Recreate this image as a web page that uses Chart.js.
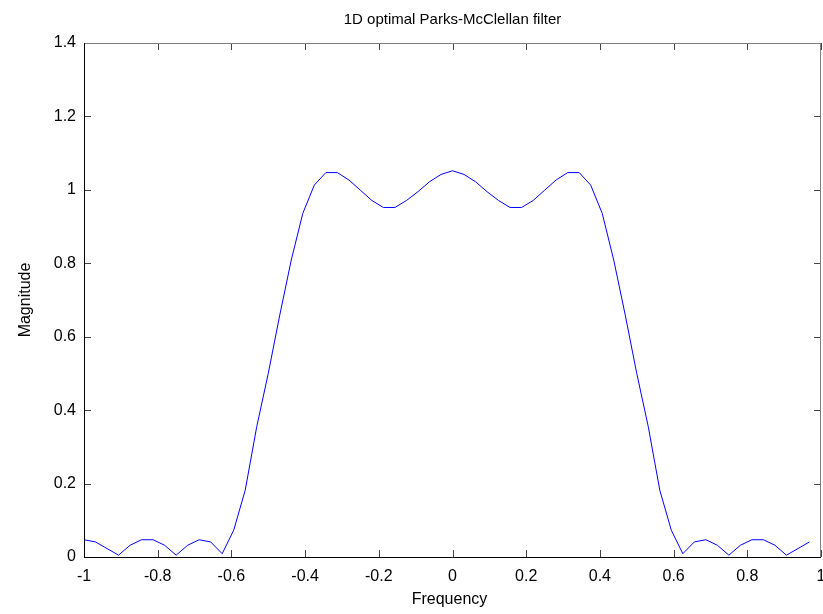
<!DOCTYPE html>
<html>
<head>
<meta charset="utf-8">
<script src="https://cdn.jsdelivr.net/npm/chart.js@4.4.0/dist/chart.umd.min.js"></script>
<style>
  html, body { margin: 0; padding: 0; background: #fff; }
  #wrap { width: 823px; height: 614px; position: relative; }
</style>
</head>
<body>
<div id="wrap"><canvas id="chart"></canvas></div>
<script>
// frequency samples, -1 .. 31/32 in steps of 1/32
const frequency = [
  -1, -0.96875, -0.9375, -0.90625, -0.875, -0.84375, -0.8125, -0.78125,
  -0.75, -0.71875, -0.6875, -0.65625, -0.625, -0.59375, -0.5625, -0.53125,
  -0.5, -0.46875, -0.4375, -0.40625, -0.375, -0.34375, -0.3125, -0.28125,
  -0.25, -0.21875, -0.1875, -0.15625, -0.125, -0.09375, -0.0625, -0.03125,
  0, 0.03125, 0.0625, 0.09375, 0.125, 0.15625, 0.1875, 0.21875,
  0.25, 0.28125, 0.3125, 0.34375, 0.375, 0.40625, 0.4375, 0.46875,
  0.5, 0.53125, 0.5625, 0.59375, 0.625, 0.65625, 0.6875, 0.71875,
  0.75, 0.78125, 0.8125, 0.84375, 0.875, 0.90625, 0.9375, 0.96875
];

const magnitude = [
  0.047, 0.041, 0.023, 0.005, 0.032, 0.047, 0.047, 0.032,
  0.005, 0.032, 0.047, 0.041, 0.009, 0.073, 0.182, 0.355,
  0.500, 0.659, 0.809, 0.936, 1.013, 1.047, 1.047, 1.027,
  0.999, 0.971, 0.952, 0.952, 0.971, 0.995, 1.022, 1.042,
  1.052, 1.042, 1.022, 0.995, 0.971, 0.952, 0.952, 0.971,
  0.999, 1.027, 1.047, 1.047, 1.013, 0.936, 0.809, 0.659,
  0.500, 0.355, 0.182, 0.073, 0.009, 0.041, 0.047, 0.032,
  0.005, 0.032, 0.047, 0.047, 0.032, 0.005, 0.023, 0.041
];

const xTicks = [-1, -0.8, -0.6, -0.4, -0.2, 0, 0.2, 0.4, 0.6, 0.8, 1];
const yTicks = [0, 0.2, 0.4, 0.6, 0.8, 1, 1.2, 1.4];

const titleText = '1D optimal Parks-McClellan filter';
const xLabel = 'Frequency';
const yLabel = 'Magnitude';

const FONT = 'Liberation Sans, Arial, Helvetica, sans-serif';

const fmt = v => {
  if (Math.abs(v) < 1e-9) return '0';
  return String(Math.round(v * 10) / 10);
};

// MATLAB-like box with inward ticks + titles
const matlabFrame = {
  id: 'matlabFrame',
  afterDraw(chart) {
    const { ctx, chartArea: a, scales: { x, y } } = chart;
    const tl = 7;
    ctx.save();
    ctx.lineWidth = 1;

    // ticks
    ctx.strokeStyle = '#444';
    ctx.beginPath();
    xTicks.forEach(v => {
      const px = Math.round(x.getPixelForValue(v)) + 0.5;
      ctx.moveTo(px, a.bottom); ctx.lineTo(px, a.bottom - tl);
      ctx.moveTo(px, a.top); ctx.lineTo(px, a.top + tl);
    });
    yTicks.forEach(v => {
      const py = Math.round(y.getPixelForValue(v)) + 0.5;
      ctx.moveTo(a.left, py); ctx.lineTo(a.left + tl, py);
      ctx.moveTo(a.right, py); ctx.lineTo(a.right - tl, py);
    });
    ctx.stroke();

    // top + right in grey
    ctx.strokeStyle = '#7f7f7f';
    ctx.beginPath();
    ctx.moveTo(a.left, a.top + 0.5); ctx.lineTo(a.right, a.top + 0.5);
    ctx.moveTo(a.right - 0.5, a.top); ctx.lineTo(a.right - 0.5, a.bottom);
    ctx.stroke();

    // left + bottom in black
    ctx.strokeStyle = '#000';
    ctx.beginPath();
    ctx.moveTo(a.left + 0.5, a.top); ctx.lineTo(a.left + 0.5, a.bottom);
    ctx.moveTo(a.left, a.bottom + 0.5); ctx.lineTo(a.right, a.bottom + 0.5);
    ctx.stroke();

    // texts
    ctx.fillStyle = '#000';
    ctx.textAlign = 'center';
    ctx.textBaseline = 'middle';
    const cx = (a.left + a.right) / 2;
    ctx.font = '15px ' + FONT;
    ctx.fillText(titleText, cx, 20);
    ctx.font = '16px ' + FONT;
    ctx.fillText(xLabel, cx - 3, 600);
    ctx.translate(26, (a.top + a.bottom) / 2);
    ctx.rotate(-Math.PI / 2);
    ctx.fillText(yLabel, 0, 0);
    ctx.restore();
  }
};

new Chart(document.getElementById('chart'), {
  type: 'line',
  data: {
    datasets: [{
      data: frequency.map((f, i) => ({ x: f, y: magnitude[i] })),
      borderColor: '#0000ff',
      borderWidth: 1,
      pointRadius: 0,
      tension: 0,
      fill: false,
    }]
  },
  options: {
    responsive: true,
    maintainAspectRatio: false,
    animation: false,
    layout: { padding: { left: 0, right: 2, top: 43, bottom: 0 } },
    plugins: {
      legend: { display: false },
      title: { display: false },
      tooltip: { enabled: false }
    },
    scales: {
      x: {
        type: 'linear',
        min: -1,
        max: 1,
        afterBuildTicks: s => { s.ticks = xTicks.map(v => ({ value: v })); },
        afterFit: s => { s.height = 57; s.paddingLeft = 0; s.paddingRight = 0; },
        grid: { display: false, drawTicks: false },
        border: { display: false },
        ticks: {
          color: '#000',
          padding: 10,
          maxRotation: 0,
          font: { family: FONT, size: 16 },
          callback: v => fmt(v)
        }
      },
      y: {
        type: 'linear',
        min: 0,
        max: 1.4,
        afterBuildTicks: s => { s.ticks = yTicks.map(v => ({ value: v })); },
        afterFit: s => { s.width = 84; s.paddingTop = 0; s.paddingBottom = 0; },
        grid: { display: false, drawTicks: false },
        border: { display: false },
        ticks: {
          color: '#000',
          padding: 8,
          font: { family: FONT, size: 16 },
          callback: v => fmt(v)
        }
      }
    }
  },
  plugins: [matlabFrame]
});
</script>
</body>
</html>
